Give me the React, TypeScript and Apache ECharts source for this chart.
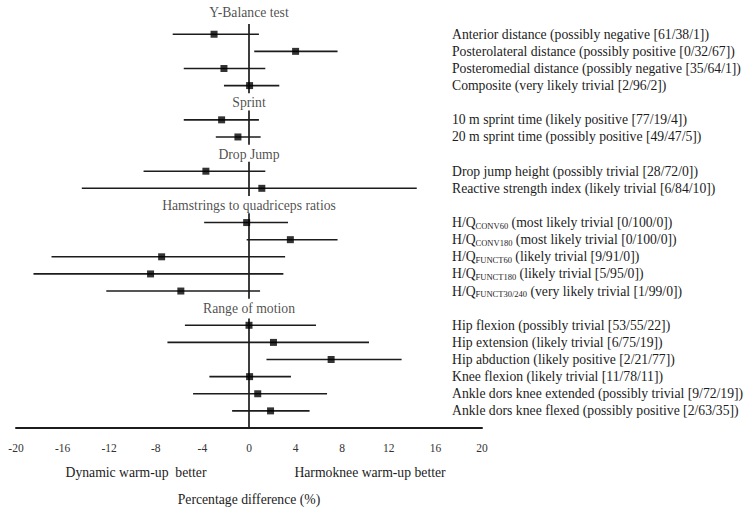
import React, { useEffect, useRef } from "react";
import * as echarts from "echarts";

// Group titles and outcomes (top to bottom)
const groupTitles = [
  "Y-Balance test",
  "Sprint",
  "Drop Jump",
  "Hamstrings to quadriceps ratios",
  "Range of motion",
];

// outcome label: [prefix, subscript, rest]
const groupItems: string[][][] = [
  [
    ["Anterior distance (possibly negative [61/38/1])", "", ""],
    ["Posterolateral distance (possibly positive [0/32/67])", "", ""],
    ["Posteromedial distance (possibly negative [35/64/1])", "", ""],
    ["Composite (very likely trivial [2/96/2])", "", ""],
  ],
  [
    ["10 m sprint time (likely positive [77/19/4])", "", ""],
    ["20 m sprint time (possibly positive [49/47/5])", "", ""],
  ],
  [
    ["Drop jump height (possibly trivial [28/72/0])", "", ""],
    ["Reactive strength index (likely trivial [6/84/10])", "", ""],
  ],
  [
    ["H/Q", "CONV60", " (most likely trivial [0/100/0])"],
    ["H/Q", "CONV180", " (most likely trivial [0/100/0])"],
    ["H/Q", "FUNCT60", " (likely trivial [9/91/0])"],
    ["H/Q", "FUNCT180", " (likely trivial [5/95/0])"],
    ["H/Q", "FUNCT30/240", " (very likely trivial [1/99/0])"],
  ],
  [
    ["Hip flexion (possibly trivial [53/55/22])", "", ""],
    ["Hip extension (likely trivial [6/75/19])", "", ""],
    ["Hip abduction (likely positive [2/21/77])", "", ""],
    ["Knee flexion (likely trivial [11/78/11])", "", ""],
    ["Ankle dors knee extended (possibly trivial [9/72/19])", "", ""],
    ["Ankle dors knee flexed (possibly positive [2/63/35])", "", ""],
  ],
];

// Percentage difference: point estimates and confidence limits, per group
const estimates = [
  [-3.0, 4.0, -2.15, 0.05],
  [-2.35, -0.95],
  [-3.7, 1.1],
  [-0.2, 3.55, -7.5, -8.45, -5.85],
  [0.0, 2.1, 7.05, 0.05, 0.75, 1.85],
];
const lowerCL = [
  [-6.55, 0.45, -5.6, -2.15],
  [-5.6, -2.85],
  [-9.05, -14.35],
  [-3.85, -0.2, -16.95, -18.5, -12.25],
  [-5.5, -7.0, 1.5, -3.4, -4.8, -1.45],
];
const upperCL = [
  [0.85, 7.6, 1.4, 2.6],
  [0.85, 1.0],
  [1.4, 14.4],
  [3.35, 7.6, 3.1, 2.95, 0.95],
  [5.75, 10.3, 13.1, 3.6, 6.7, 5.2],
];

const xTicks = { min: -20, max: 20, interval: 4 };

const FONT = "Liberation Serif, DejaVu Serif, serif";
const INK = "#1c1c1c";
const FS = 13.7;

export default function App() {
  const ref = useRef<HTMLDivElement>(null);

  useEffect(() => {
    if (!ref.current) return;
    const chart = echarts.init(ref.current, undefined, { renderer: "svg" });

    // build rows
    const titleRows: { value: number[]; name: string }[] = [];
    const labelMap: Record<number, string> = {};
    const bars: number[][] = [];
    const points: number[][] = [];
    const zeroSegs: number[][] = [];
    let row = 0;
    groupTitles.forEach((t, g) => {
      const titleIdx = row;
      titleRows.push({ value: [0, titleIdx], name: t });
      row++;
      groupItems[g].forEach((it, k) => {
        const [a, sub, rest] = it;
        labelMap[row] = sub
          ? `{m|${a}}{s|${sub}}{m|${rest}}`
          : `{m|${a}}`;
        bars.push([lowerCL[g][k], upperCL[g][k], row]);
        points.push([estimates[g][k], row]);
        row++;
      });
      const last = row - 1;
      const isLast = g === groupTitles.length - 1;
      zeroSegs.push([titleIdx + (g === 0 ? 0.4 : isLast ? 0.6 : 0.45), isLast ? row : last + 0.45]);
    });
    const yMax = row; // axis at bottom
    const yMin = -1;

    chart.setOption({
      animation: false,
      grid: { left: 16, right: 268, top: 0, bottom: 77, containLabel: false },
      xAxis: {
        type: "value",
        position: "bottom",
        min: xTicks.min,
        max: xTicks.max,
        interval: xTicks.interval,
        axisLine: { show: true, onZero: false, lineStyle: { color: INK, width: 2 } },
        axisTick: { show: false },
        splitLine: { show: false },
        axisLabel: { color: "#333", fontSize: 11.5, fontFamily: FONT, margin: 14 },
        name: "Percentage difference (%)",
        nameLocation: "middle",
        nameGap: 64,
        nameTextStyle: { color: INK, fontSize: FS, fontFamily: FONT },
      },
      yAxis: [
        { type: "value", inverse: true, min: yMin, max: yMax, show: false },
        {
          type: "value",
          inverse: true,
          min: yMin,
          max: yMax,
          interval: 1,
          position: "right",
          offset: -30,
          axisLine: { show: false },
          axisTick: { show: false },
          splitLine: { show: false },
          axisLabel: {
            show: true,
            margin: 0,
            align: "left",
            showMinLabel: true,
            showMaxLabel: true,
            formatter: (v: number) => labelMap[v] ?? "",
            rich: {
              m: { fontSize: FS, fontFamily: FONT, color: INK, lineHeight: 16 },
              s: { fontSize: 8.5, fontFamily: FONT, color: INK, lineHeight: 16, padding: [6, 0, 0, 0] },
            },
          },
        },
      ],
      series: [
        {
          type: "custom",
          name: "zero",
          yAxisIndex: 0,
          encode: { y: [0, 1] },
          clip: false,
          data: zeroSegs,
          renderItem: (_p: any, api: any) => {
            const a = api.coord([0, api.value(0)]);
            const b = api.coord([0, api.value(1)]);
            return {
              type: "line",
              shape: { x1: a[0], y1: a[1], x2: b[0], y2: b[1] },
              style: { stroke: INK, lineWidth: 1.7 },
            };
          },
        },
        {
          type: "custom",
          name: "ci",
          yAxisIndex: 0,
          encode: { x: [0, 1], y: 2 },
          data: bars,
          renderItem: (_p: any, api: any) => {
            const a = api.coord([api.value(0), api.value(2)]);
            const b = api.coord([api.value(1), api.value(2)]);
            return {
              type: "line",
              shape: { x1: a[0], y1: a[1], x2: b[0], y2: b[1] },
              style: { stroke: INK, lineWidth: 1.6 },
            };
          },
        },
        {
          type: "scatter",
          name: "est",
          yAxisIndex: 0,
          symbol: "rect",
          symbolSize: 7,
          itemStyle: { color: "#000" },
          data: points,
          z: 5,
        },
        {
          type: "scatter",
          name: "titles",
          yAxisIndex: 0,
          symbolSize: 0,
          data: titleRows.map((d, i) => ({
            ...d,
            label: i === 0 ? { offset: [0, -5] } : undefined,
          })),
          label: {
            show: true,
            position: "inside",
            formatter: (p: any) => p.name,
            fontSize: FS,
            fontFamily: FONT,
            color: INK,
          },
          z: 6,
        },
      ],
      graphic: [
        {
          type: "text",
          x: 136,
          y: 472,
          style: {
            text: "Dynamic warm-up  better",
            fontSize: FS,
            fontFamily: FONT,
            fill: INK,
            textAlign: "center",
            textVerticalAlign: "middle",
          },
        },
        {
          type: "text",
          x: 370,
          y: 472,
          style: {
            text: "Harmoknee warm-up better",
            fontSize: FS,
            fontFamily: FONT,
            fill: INK,
            textAlign: "center",
            textVerticalAlign: "middle",
          },
        },
      ],
    });

    return () => chart.dispose();
  }, []);

  return (
    <div
      ref={ref}
      style={{ position: "absolute", left: 0, top: 0, width: 750, height: 511, background: "#fff" }}
    />
  );
}
